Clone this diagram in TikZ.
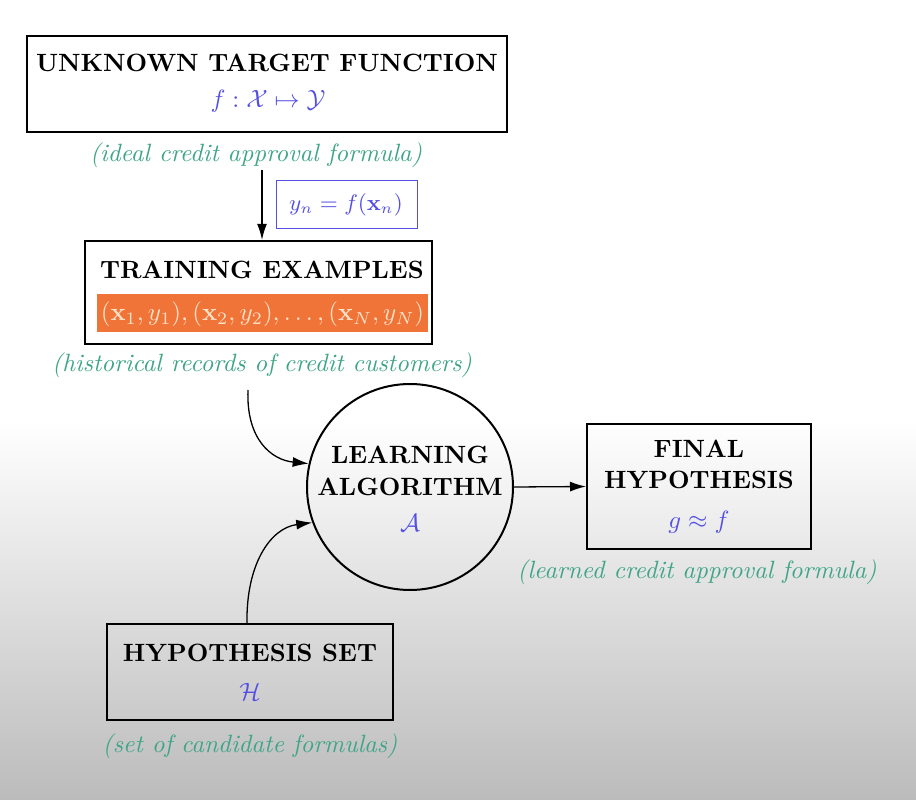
\documentclass[tikz,border=0pt]{standalone}
\usepackage{amsmath,amssymb}
\usetikzlibrary{arrows.meta}
\definecolor{tgreen}{RGB}{62,165,135}
\definecolor{mblue}{RGB}{85,80,228}
\definecolor{borange}{RGB}{240,115,55}
\definecolor{lpeach}{RGB}{255,225,200}
\begin{document}
\begin{tikzpicture}[x=1pt,y=-1pt,
  boxst/.style={draw, line width=2pt, minimum width=#1},
  ttl/.style={font=\fontsize{10}{12}\selectfont\bfseries, inner sep=0pt, scale=2.5},
  mth/.style={text=mblue, font=\fontsize{10}{12}\selectfont, inner sep=0pt, scale=2.5},
  note/.style={text=tgreen, font=\fontsize{10}{12}\selectfont\itshape, inner sep=0pt, scale=2.5},
  arr/.style={line width=1.3pt, -{Latex[length=16pt,width=10pt]}}]
\fill[white] (0,0) rectangle (916,800);
\shade[top color=white, bottom color=gray!53] (0,420) rectangle (916,800);
\useasboundingbox (0,0) rectangle (916,800);
% boxes
\node[boxst=480pt, minimum height=96pt, line width=2.4pt] (ut) at (267,84) {};
\node[ttl] (utt) at (267,63) {UNKNOWN TARGET FUNCTION};
\node[mth] (utm) at (268,101) {$f: \mathcal{X} \mapsto \mathcal{Y}$};
\node[note] (utn) at (256,155) {(ideal credit approval formula)};

\node[draw=mblue, line width=1pt, minimum width=141pt, minimum height=48pt] (yb) at (346.5,204) {};
\node[text=mblue, font=\fontsize{9}{11}\selectfont, inner sep=0pt, scale=2.5] (ybt) at (346,205) {$y_n = f(\mathbf{x}_n)$};

\node[boxst=347pt, minimum height=103pt, line width=2.4pt] (tr) at (258.5,292.5) {};
\node[ttl] (trt) at (262,270) {TRAINING EXAMPLES};
\node[fill=borange, minimum width=331pt, minimum height=38pt, inner sep=0pt] (ob) at (262.5,313) {};
\node[text=lpeach, font=\fontsize{10}{12}\selectfont, inner sep=0pt, scale=2.5] (obt) at (262.5,314) {$(\mathbf{x}_1,y_1), (\mathbf{x}_2,y_2), \ldots, (\mathbf{x}_N,y_N)$};
\node[note] (trn) at (262,365) {(historical records of credit customers)};

\node[draw, circle, line width=2pt, minimum size=206pt] (la) at (410,487) {};
\node[ttl] (lat1) at (410,455) {LEARNING};
\node[ttl] (lat2) at (410,487) {ALGORITHM};
\node[mth] (lam) at (410,523) {$\mathcal{A}$};

\node[boxst=224pt, minimum height=125pt] (fh) at (699,486.5) {};
\node[ttl] (fht1) at (699,449) {FINAL};
\node[ttl] (fht2) at (699,480) {HYPOTHESIS};
\node[mth] (fhm) at (699,522) {$g \approx f$};
\node[note] (fhn) at (697,572) {(learned credit approval formula)};

\node[boxst=286pt, minimum height=96pt] (hs) at (250,672) {};
\node[ttl] (hst) at (250,653) {HYPOTHESIS SET};
\node[mth] (hsm) at (250,692) {$\mathcal{H}$};
\node[note] (hsn) at (250,746) {(set of candidate formulas)};

% connectors
\coordinate (a1) at (262,170);
\draw[arr] (a1) -- (a1 |- tr.north);
\coordinate (c1) at (248,390);
\draw[arr] (c1) .. controls (246,440) and (272,460) .. (la.167);
\draw[arr] ([xshift=-3pt]hs.north) .. controls (246,565) and (270,528) .. (la.200);
\draw[arr] (la.east) -- (fh.west);
\end{tikzpicture}
\end{document}
